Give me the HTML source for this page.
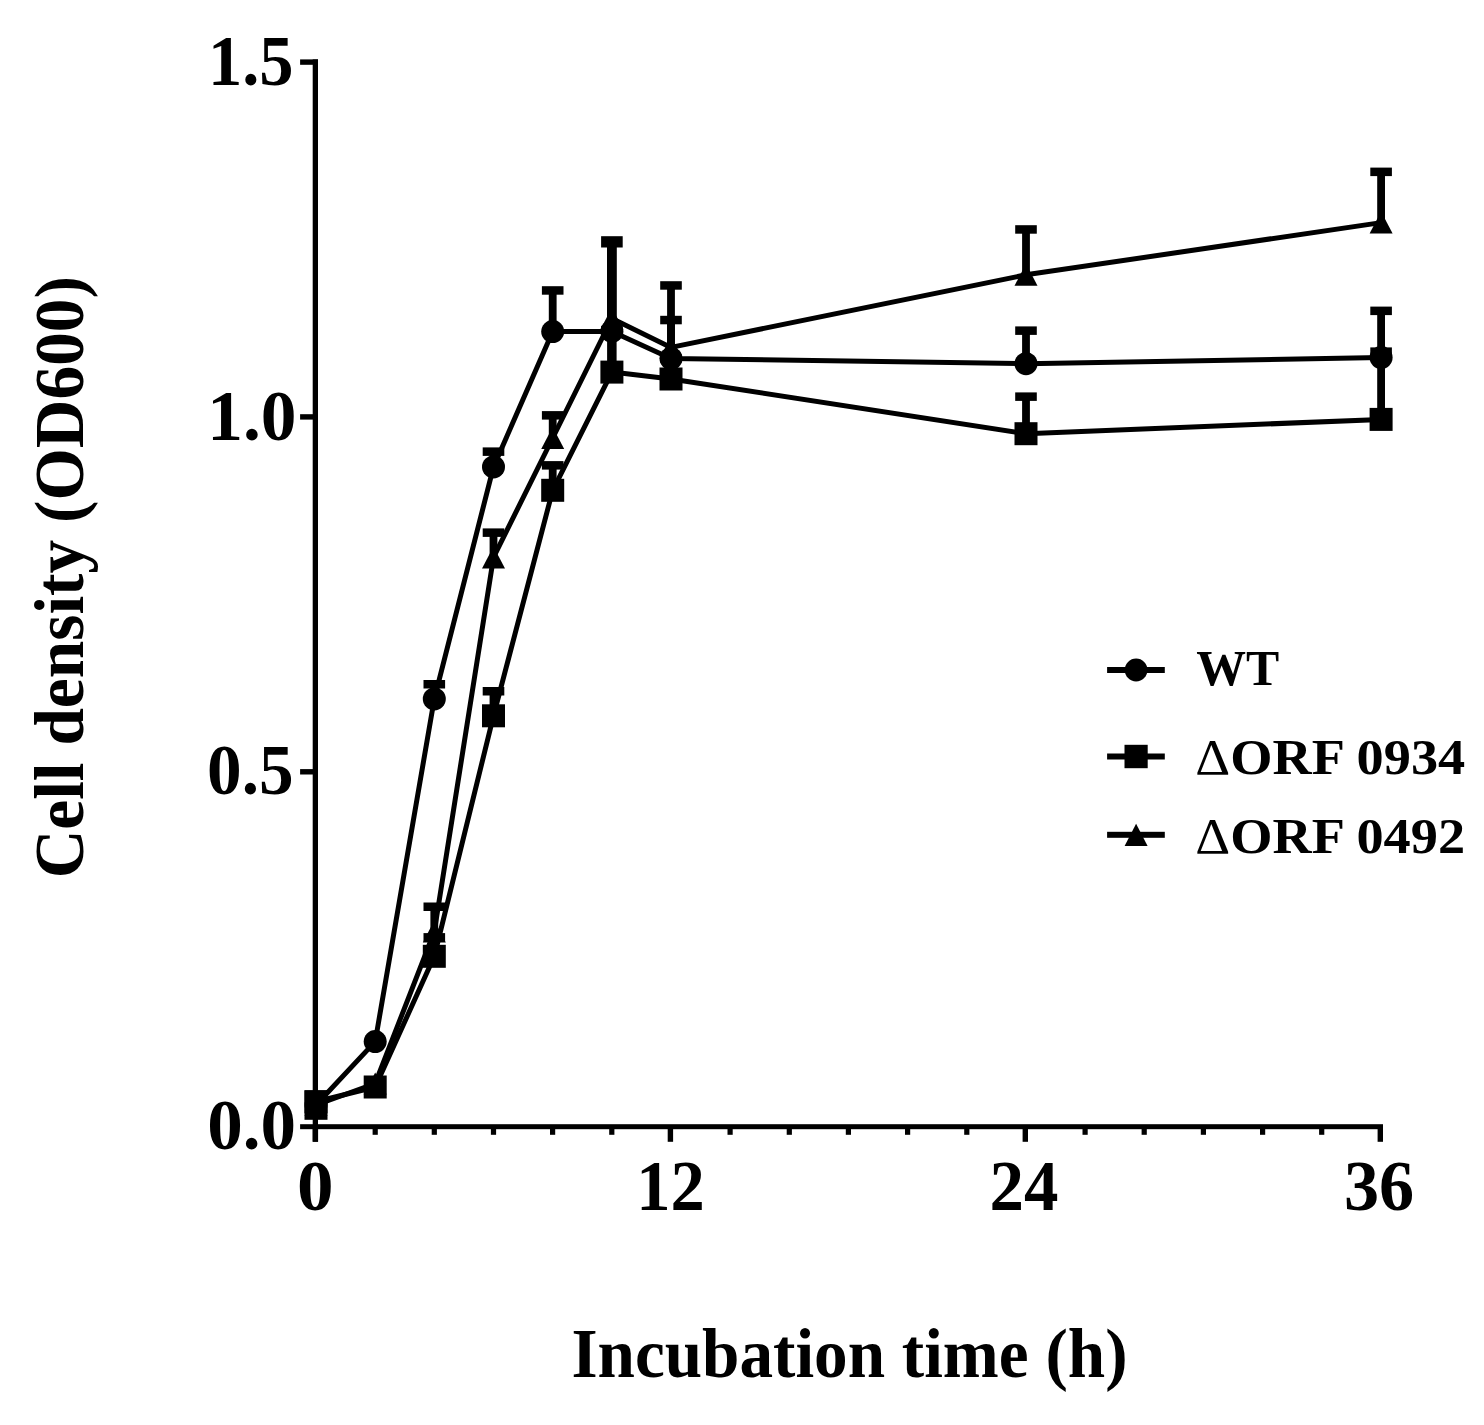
<!DOCTYPE html>
<html lang="en">
<head>
<meta charset="utf-8">
<title>Cell density growth curves</title>
<style>
html,body{margin:0;padding:0;background:#fff;}
body{width:1484px;height:1425px;overflow:hidden;}
svg{display:block;}
</style>
</head>
<body>
<svg width="1484" height="1425" viewBox="0 0 1484 1425">
<rect x="0" y="0" width="1484" height="1425" fill="#ffffff"/>
<g fill="#000" stroke="none">
<rect x="312.7" y="59.4" width="5.3" height="1082.3"/>
<rect x="300.1" y="1124.2" width="1082.9" height="5.0"/>
<rect x="300.1" y="59.4" width="17.9" height="5.4"/>
<rect x="300.1" y="414.2" width="17.9" height="5.4"/>
<rect x="300.1" y="769.1" width="17.9" height="5.4"/>
<rect x="312.7" y="1126" width="5.4" height="15.8"/>
<rect x="372.6" y="1126" width="5.2" height="8.8"/>
<rect x="431.7" y="1126" width="5.2" height="8.8"/>
<rect x="490.9" y="1126" width="5.2" height="8.8"/>
<rect x="550.0" y="1126" width="5.2" height="8.8"/>
<rect x="609.2" y="1126" width="5.2" height="8.8"/>
<rect x="667.7" y="1126" width="5.4" height="15.8"/>
<rect x="727.5" y="1126" width="5.2" height="8.8"/>
<rect x="786.7" y="1126" width="5.2" height="8.8"/>
<rect x="845.8" y="1126" width="5.2" height="8.8"/>
<rect x="905.0" y="1126" width="5.2" height="8.8"/>
<rect x="964.2" y="1126" width="5.2" height="8.8"/>
<rect x="1022.6" y="1126" width="5.4" height="15.8"/>
<rect x="1082.5" y="1126" width="5.2" height="8.8"/>
<rect x="1141.6" y="1126" width="5.2" height="8.8"/>
<rect x="1200.8" y="1126" width="5.2" height="8.8"/>
<rect x="1260.0" y="1126" width="5.2" height="8.8"/>
<rect x="1319.1" y="1126" width="5.2" height="8.8"/>
<rect x="1377.6" y="1126" width="5.4" height="15.8"/>
</g>
<g fill="#000">
<rect x="430.4" y="684.2" width="7.8" height="14.7"/>
<rect x="423.5" y="680.0" width="21.6" height="8.5"/>
<rect x="489.6" y="451.6" width="7.8" height="15.3"/>
<rect x="482.7" y="447.4" width="21.6" height="8.5"/>
<rect x="548.8" y="290.5" width="7.8" height="41.1"/>
<rect x="541.9" y="286.2" width="21.6" height="8.5"/>
<rect x="667.1" y="320.0" width="7.8" height="38.5"/>
<rect x="660.2" y="315.8" width="21.6" height="8.5"/>
<rect x="1022.1" y="330.6" width="7.8" height="33.1"/>
<rect x="1015.2" y="326.4" width="21.6" height="8.5"/>
<rect x="1377.2" y="310.8" width="7.8" height="46.7"/>
<rect x="1370.3" y="306.6" width="21.6" height="8.5"/>
<polyline points="316.0,1105.0 375.2,1041.6 434.3,698.9 493.5,466.9 552.7,331.6 611.9,331.4 671.0,358.5 1026.0,363.7 1381.1,357.5" fill="none" stroke="#000" stroke-width="5.0" stroke-linejoin="round" stroke-linecap="round"/>
<circle cx="316.0" cy="1105.0" r="11.5"/>
<circle cx="375.2" cy="1041.6" r="11.5"/>
<circle cx="434.3" cy="698.9" r="11.5"/>
<circle cx="493.5" cy="466.9" r="11.5"/>
<circle cx="552.7" cy="331.6" r="11.5"/>
<circle cx="611.9" cy="331.4" r="11.5"/>
<circle cx="671.0" cy="358.5" r="11.5"/>
<circle cx="1026.0" cy="363.7" r="11.5"/>
<circle cx="1381.1" cy="357.5" r="11.5"/>
<rect x="430.4" y="937.4" width="7.8" height="18.9"/>
<rect x="423.5" y="933.1" width="21.6" height="8.5"/>
<rect x="489.6" y="691.2" width="7.8" height="24.6"/>
<rect x="482.7" y="687.0" width="21.6" height="8.5"/>
<rect x="548.8" y="465.3" width="7.8" height="25.0"/>
<rect x="541.9" y="461.1" width="21.6" height="8.5"/>
<rect x="607.1" y="330.0" width="9.5" height="42.1"/>
<rect x="601.1" y="325.8" width="21.6" height="8.5"/>
<rect x="667.1" y="358.5" width="7.8" height="20.5"/>
<rect x="660.2" y="354.2" width="21.6" height="8.5"/>
<rect x="1022.1" y="396.7" width="7.8" height="37.0"/>
<rect x="1015.2" y="392.4" width="21.6" height="8.5"/>
<rect x="1377.2" y="351.6" width="7.8" height="67.8"/>
<rect x="1370.3" y="347.4" width="21.6" height="8.5"/>
<polyline points="316.0,1101.8 375.2,1087.0 434.3,956.3 493.5,715.8 552.7,490.3 611.9,372.1 671.0,379.0 1026.0,433.7 1381.1,419.4" fill="none" stroke="#000" stroke-width="5.0" stroke-linejoin="round" stroke-linecap="round"/>
<rect x="304.5" y="1090.3" width="23.0" height="23.0"/>
<rect x="363.7" y="1075.5" width="23.0" height="23.0"/>
<rect x="422.8" y="944.8" width="23.0" height="23.0"/>
<rect x="482.0" y="704.3" width="23.0" height="23.0"/>
<rect x="541.2" y="478.8" width="23.0" height="23.0"/>
<rect x="600.4" y="360.6" width="23.0" height="23.0"/>
<rect x="659.5" y="367.5" width="23.0" height="23.0"/>
<rect x="1014.5" y="422.2" width="23.0" height="23.0"/>
<rect x="1369.6" y="407.9" width="23.0" height="23.0"/>
<rect x="430.4" y="906.7" width="7.8" height="24.9"/>
<rect x="423.5" y="902.5" width="21.6" height="8.5"/>
<rect x="489.6" y="532.6" width="7.8" height="24.8"/>
<rect x="482.7" y="528.4" width="21.6" height="8.5"/>
<rect x="548.8" y="415.4" width="7.8" height="22.6"/>
<rect x="541.9" y="411.1" width="21.6" height="8.5"/>
<rect x="607.0" y="241.8" width="9.8" height="76.7"/>
<rect x="601.1" y="236.2" width="21.6" height="11.3"/>
<rect x="667.1" y="285.5" width="7.8" height="61.9"/>
<rect x="660.2" y="281.2" width="21.6" height="8.5"/>
<rect x="1022.1" y="229.4" width="7.8" height="45.4"/>
<rect x="1015.2" y="225.2" width="21.6" height="8.5"/>
<rect x="1377.2" y="171.8" width="7.8" height="50.8"/>
<rect x="1370.3" y="167.6" width="21.6" height="8.5"/>
<polyline points="316.0,1105.0 375.2,1083.5 434.3,931.6 493.5,557.4 552.7,438.0 611.9,318.5 671.0,347.4 1026.0,274.8 1381.1,222.6" fill="none" stroke="#000" stroke-width="5.0" stroke-linejoin="round" stroke-linecap="round"/>
<polygon points="316.0,1094.0 327.5,1116.0 304.5,1116.0"/>
<polygon points="375.2,1072.5 386.7,1094.5 363.7,1094.5"/>
<polygon points="434.3,920.6 445.8,942.6 422.8,942.6"/>
<polygon points="493.5,546.4 505.0,568.4 482.0,568.4"/>
<polygon points="552.7,427.0 564.2,449.0 541.2,449.0"/>
<polygon points="611.9,307.5 623.4,329.5 600.4,329.5"/>
<polygon points="671.0,336.4 682.5,358.4 659.5,358.4"/>
<polygon points="1026.0,263.8 1037.5,285.8 1014.5,285.8"/>
<polygon points="1381.1,211.6 1392.6,233.6 1369.6,233.6"/>
<rect x="304.5" y="1090.3" width="23" height="29.5"/>
</g>
<g fill="#000">
<rect x="1107.1" y="667.0" width="57.7" height="6"/>
<circle cx="1136.1" cy="670.0" r="11.4"/>
<rect x="1107.1" y="753.5" width="57.7" height="6"/>
<rect x="1124.5" y="744.8" width="23.2" height="23.4"/>
<rect x="1107.1" y="831.8" width="57.7" height="6"/>
<polygon points="1136.1,823.8 1147.6,846.0 1124.6,846.0"/>
</g>
<g font-family="'Liberation Serif', serif" font-weight="700" fill="#000">
<text id="t_y15" x="207.88" y="84.80" font-size="72" textLength="85.63" lengthAdjust="spacingAndGlyphs">1.5</text>
<text id="t_y10" x="207.20" y="439.50" font-size="72" textLength="89.23" lengthAdjust="spacingAndGlyphs">1.0</text>
<text id="t_y05" x="207.11" y="794.40" font-size="72" textLength="86.52" lengthAdjust="spacingAndGlyphs">0.5</text>
<text id="t_y00" x="207.13" y="1149.30" font-size="72" textLength="88.79" lengthAdjust="spacingAndGlyphs">0.0</text>
<text id="t_x0" x="296.99" y="1210.00" font-size="72" textLength="36.53" lengthAdjust="spacingAndGlyphs">0</text>
<text id="t_x12" x="636.23" y="1210.00" font-size="72" textLength="68.47" lengthAdjust="spacingAndGlyphs">12</text>
<text id="t_x24" x="989.48" y="1210.00" font-size="72" textLength="68.82" lengthAdjust="spacingAndGlyphs">24</text>
<text id="t_x36" x="1343.89" y="1210.00" font-size="72" textLength="70.19" lengthAdjust="spacingAndGlyphs">36</text>
<text id="t_xt" x="571.38" y="1377.30" font-size="70" textLength="556.19" lengthAdjust="spacingAndGlyphs">Incubation time (h)</text>
<text id="t_yt" transform="translate(83.10 878.36) rotate(-90)" font-size="70" textLength="602.28" lengthAdjust="spacingAndGlyphs">Cell density (OD600)</text>
<text id="t_l1" x="1196.14" y="685.30" font-size="51.5" textLength="83.05" lengthAdjust="spacingAndGlyphs">WT</text>
<text id="t_l2" x="1195.39" y="773.60" font-size="51.5" textLength="269.89" lengthAdjust="spacingAndGlyphs"><tspan font-weight="400">Δ</tspan>ORF 0934</text>
<text id="t_l3" x="1195.24" y="852.50" font-size="51.5" textLength="269.91" lengthAdjust="spacingAndGlyphs"><tspan font-weight="400">Δ</tspan>ORF 0492</text>
</g>
</svg>
</body>
</html>
